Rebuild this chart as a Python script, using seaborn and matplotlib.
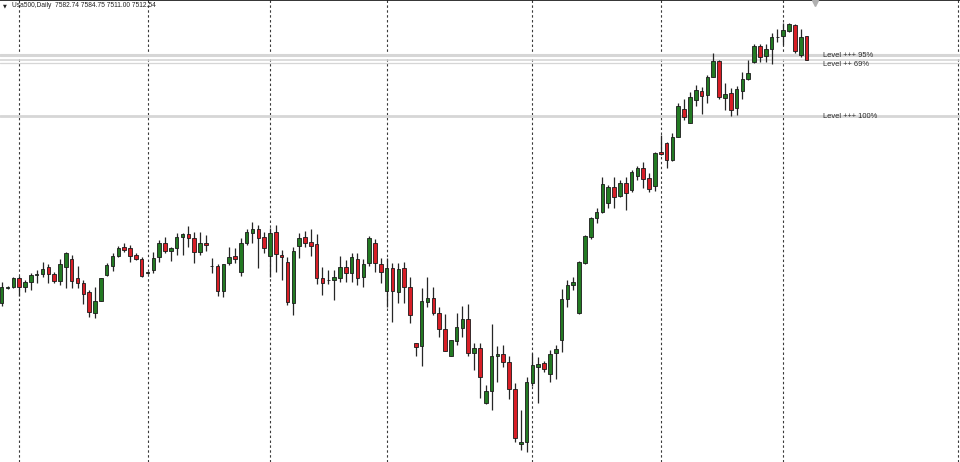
import numpy as np
import matplotlib
matplotlib.use("Agg")
import matplotlib.pyplot as plt
import seaborn as sns

# ── Data: Usa500 daily candles ──────────────────────────────────────────────
opens = [6782, 6828, 6830, 6858, 6830, 6845, 6868, 6869, 6890, 6870,
         6850, 6892, 6915, 6857, 6844, 6815, 6754, 6790, 6867, 6895,
         6924, 6950, 6947, 6927, 6915, 6873, 6882, 6920, 6964, 6940,
         6947, 6980, 6990, 6977, 6937, 6964, 6893, 6894, 6820, 6904,
         6924, 6877, 6962, 6994, 7005, 6980, 6925, 6995, 6927, 6907,
         6782, 6955, 6980, 6967, 6960, 6859, 6851, 6852, 6859, 6892,
         6872, 6915, 6862, 6902, 6964, 6899, 6819, 6887, 6817, 6889,
         6832, 6662, 6655, 6787, 6797, 6752, 6704, 6625, 6670, 6709,
         6734, 6634, 6647, 6482, 6520, 6624, 6630, 6605, 6524, 6359,
         6367, 6542, 6592, 6602, 6569, 6632, 6672, 6794, 6837, 6754,
         6902, 6982, 7037, 7055, 7084, 7130, 7104, 7142, 7122, 7165,
         7189, 7157, 7134, 7237, 7262, 7212, 7282, 7364, 7324, 7392,
         7419, 7407, 7462, 7509, 7397, 7412, 7367, 7420, 7454, 7507,
         7554, 7524, 7544, 7581, 7585, 7600, 7617, 7527, 7582.74]
highs = [6846, 6834, 6862, 6864, 6852, 6874, 6882, 6907, 6899, 6877,
         6914, 6935, 6927, 6894, 6852, 6822, 6832, 6858, 6904, 6932,
         6955, 6962, 6957, 6932, 6920, 6877, 6937, 6972, 6982, 6952,
         6992, 6994, 7014, 6995, 6995, 6987, 6917, 6900, 6901, 6950,
         6947, 6979, 7004, 7027, 7017, 6997, 7007, 7017, 6942, 6922,
         6952, 6994, 6999, 7004, 6990, 6892, 6882, 6882, 6924, 6912,
         6932, 6932, 6914, 6984, 6974, 6917, 6917, 6902, 6902, 6907,
         6862, 6663, 6827, 6862, 6832, 6770, 6750, 6673, 6752, 6774,
         6780, 6664, 6662, 6537, 6720, 6654, 6657, 6624, 6544, 6462,
         6562, 6632, 6622, 6610, 6642, 6657, 6824, 6852, 6862, 6910,
         6987, 7042, 7067, 7162, 7137, 7162, 7152, 7162, 7182, 7194,
         7207, 7174, 7237, 7287, 7267, 7292, 7382, 7394, 7417, 7437,
         7430, 7467, 7532, 7512, 7442, 7427, 7434, 7477, 7512, 7560,
         7560, 7560, 7592, 7604, 7622, 7624, 7620, 7604, 7584.75]
lows = [6774, 6824, 6827, 6804, 6817, 6822, 6842, 6862, 6842, 6842,
        6837, 6827, 6827, 6827, 6780, 6740, 6737, 6789, 6864, 6880,
        6920, 6937, 6907, 6912, 6860, 6870, 6874, 6905, 6932, 6910,
        6927, 6927, 6952, 6902, 6927, 6940, 6872, 6804, 6800, 6897,
        6904, 6865, 6957, 6962, 6887, 6932, 6862, 6877, 6852, 6777,
        6747, 6917, 6952, 6925, 6840, 6807, 6840, 6792, 6847, 6847,
        6847, 6837, 6830, 6894, 6877, 6844, 6772, 6727, 6782, 6784,
        6724, 6624, 6595, 6770, 6747, 6682, 6639, 6624, 6657, 6682,
        6624, 6582, 6497, 6481, 6462, 6547, 6592, 6494, 6367, 6342,
        6337, 6534, 6484, 6577, 6547, 6554, 6637, 6770, 6822, 6750,
        6900, 6974, 7024, 7052, 7067, 7067, 7102, 7062, 7117, 7152,
        7127, 7117, 7120, 7228, 7187, 7210, 7280, 7332, 7322, 7374,
        7350, 7384, 7460, 7394, 7362, 7344, 7347, 7394, 7452, 7504,
        7507, 7507, 7499, 7567, 7557, 7597, 7534, 7520, 7511.00]
closes = [6832, 6830, 6857, 6830, 6845, 6867, 6870, 6884, 6869, 6850,
          6899, 6932, 6850, 6842, 6810, 6755, 6789, 6857, 6897, 6925,
          6947, 6942, 6925, 6914, 6865, 6875, 6917, 6962, 6940, 6947,
          6980, 6989, 6977, 6937, 6962, 6956, 6895, 6820, 6900, 6922,
          6915, 6962, 6995, 7004, 6977, 6947, 6992, 6929, 6920, 6785,
          6940, 6977, 6962, 6955, 6857, 6844, 6853, 6862, 6892, 6872,
          6922, 6859, 6900, 6977, 6904, 6877, 6887, 6819, 6884, 6832,
          6747, 6652, 6789, 6797, 6754, 6704, 6640, 6672, 6710, 6734,
          6632, 6647, 6560, 6520, 6625, 6630, 6605, 6524, 6377, 6367,
          6545, 6597, 6600, 6584, 6629, 6645, 6794, 6837, 6845, 6907,
          6984, 7037, 7055, 7140, 7132, 7102, 7142, 7112, 7177, 7187,
          7155, 7124, 7232, 7229, 7212, 7280, 7374, 7340, 7402, 7422,
          7405, 7462, 7509, 7402, 7409, 7362, 7424, 7454, 7472, 7554,
          7522, 7544, 7580, 7582, 7602, 7619, 7540, 7582, 7512.54]

# bars that carry a period separator (dashed vertical grid)
separator_bars = [3, 25, 46, 66, 91, 113, 134, 164]

# horizontal levels
level_prices = [7527, 7512, 7502, 7344]
level_widths = [2.2, 1.2, 0.9, 2.0]
level_labels = ["Level +++ 95%", "Level ++ 69%", "Level +++ 100%"]
label_prices = [7525, 7499, 7343]

header = "Usa500,Daily  7582.74 7584.75 7511.00 7512.54"

# ── Style ───────────────────────────────────────────────────────────────────
sns.set_theme(style="white")
plt.rcParams["font.family"] = ["Liberation Sans", "DejaVu Sans"]

UP_COLOR = "#237a23"
DOWN_COLOR = "#d81e26"
EDGE = "#1a1a1a"

fig = plt.figure(figsize=(9.6, 4.62), dpi=100)
ax = fig.add_axes([0, 0, 1, 1])

idx = np.arange(len(opens))
o = np.array(opens)
c = np.array(closes)
h = np.array(highs)
l = np.array(lows)
up = c >= o

# separators
for b in separator_bars:
    ax.axvline(b, color="#3a3a3a", lw=0.8, ls=(0, (2.2, 2.2)), zorder=1)

# levels
for p, w in zip(level_prices, level_widths):
    ax.axhline(p, color="#d6d6d6", lw=w, zorder=1)
for txt, p in zip(level_labels, label_prices):
    ax.text(140.8, p, txt, fontsize=5.4, color="#2b2b2b", va="center", ha="left", zorder=5)

# wicks
ax.vlines(idx, l, h, color="#262626", lw=0.9, zorder=2)

# bodies
body_low = np.minimum(o, c)
body_h = np.maximum(np.abs(c - o), 1.5)
ax.bar(idx[up], body_h[up], bottom=body_low[up], width=0.62,
       color=UP_COLOR, edgecolor=EDGE, linewidth=0.6, zorder=3)
ax.bar(idx[~up], body_h[~up], bottom=body_low[~up], width=0.62,
       color=DOWN_COLOR, edgecolor=EDGE, linewidth=0.6, zorder=3)

ax.set_xlim(-0.29, 164.3)
ax.set_ylim(6306, 7692)
ax.set_xticks([])
ax.set_yticks([])

sns.despine(ax=ax, left=True, bottom=True, right=True, top=False)
ax.spines["top"].set_color("#111111")
ax.spines["top"].set_linewidth(1.2)

# header + chart-shift marker
ax.text(0.0035, 0.988, "\u25bc", transform=ax.transAxes, fontsize=3.6,
        color="#222222", va="center", ha="left", family="DejaVu Sans")
ax.text(0.012, 0.988, header, transform=ax.transAxes, fontsize=4.8,
        color="#222222", va="center", ha="left")
ax.plot([0.849], [0.994], marker="v", ms=4, color="#b0b0b0",
        transform=ax.transAxes, clip_on=False, zorder=6)

fig.savefig("out.png", dpi=100)
